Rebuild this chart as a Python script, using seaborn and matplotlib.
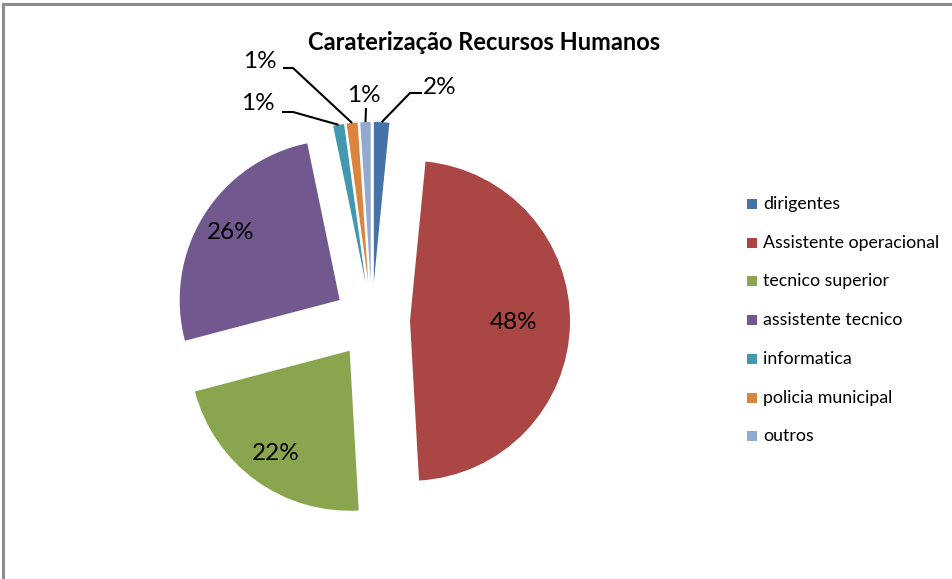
import numpy as np
import matplotlib
matplotlib.use("Agg")
import matplotlib.pyplot as plt
import seaborn as sns

# ---- data ----
categories = ["dirigentes", "Assistente operacional", "tecnico superior",
              "assistente tecnico", "informatica", "policia municipal", "outros"]
shares = [1.55, 47.55, 21.8, 25.85, 1.1, 1.1, 1.05]
colors = ["#4572A7", "#AA4643", "#89A54E", "#71588F", "#4198AF", "#DB843D", "#93A9CF"]
title = "Caraterização Recursos Humanos"

sns.set_theme(style="white")
plt.rcParams['font.family'] = ['Lato', 'DejaVu Sans']

W, H = 953, 579
fig = plt.figure(figsize=(W / 100, H / 100), dpi=100)
ax = fig.add_axes([0, 0, 1, 1])

def Y(y):
    return H - y

R = 160
center = (372, Y(320))
explode = [38] * len(shares)

wedges, _ = ax.pie(shares, colors=colors, startangle=90, counterclock=False,
                   radius=R, center=center, explode=explode, frame=True,
                   wedgeprops=dict(linewidth=0))

ax.set_xlim(0, W)
ax.set_ylim(0, H)
ax.set_aspect('auto')
ax.axis('off')

total = sum(shares)
labels = ["%d%%" % int(v / total * 100 + 0.5) for v in shares]

def mid_point(w, frac):
    th = np.deg2rad((w.theta1 + w.theta2) / 2)
    cx, cy = w.center
    return cx + frac * w.r * np.cos(th), cy + frac * w.r * np.sin(th)

fs = 17.5
# big slices: labels inside
inside = {1: 0.65, 2: 0.79, 3: 0.8}
for i, frac in inside.items():
    x, y = mid_point(wedges[i], frac)
    ax.text(x, y, labels[i], ha='center', va='center', fontsize=fs, color='black')

# small slices: outside labels with leader lines (elbow, end, label position in px)
outside = {
    0: [(410, 93), (422, 93), (440, 88)],
    6: [(366, 108), (366, 108), (364, 95)],
    5: [(293, 68), (283, 68), (260, 61)],
    4: [(293, 112), (282, 112), (258, 104)],
}
for i, (elbow, end, lab) in outside.items():
    x0, y0 = mid_point(wedges[i], 1.0)
    ax.plot([x0, elbow[0], end[0]], [y0, Y(elbow[1]), Y(end[1])],
            color='black', lw=1.5, solid_capstyle='butt')
    ax.text(lab[0], Y(lab[1]), labels[i], ha='center', va='center',
            fontsize=fs, color='black')

# title
ax.text(484, Y(43), title, ha='center', va='center', fontsize=17,
        fontweight='bold', color='black')

# legend
leg_y0, leg_dy = 204, 38.7
for i, (cat, c) in enumerate(zip(categories, colors)):
    yy = Y(leg_y0 + i * leg_dy)
    ax.add_patch(plt.Rectangle((747, yy - 5), 10, 10, color=c, lw=0))
    ax.text(763, yy, cat, ha='left', va='center', fontsize=12.8, color='black')

# frame
ax.plot([3.5, 3.5, W + 5], [-5, Y(3.5), Y(3.5)], color='#8c8c8c', lw=2.2,
        solid_joinstyle='miter')

fig.savefig("out.png", dpi=100, facecolor='white')
